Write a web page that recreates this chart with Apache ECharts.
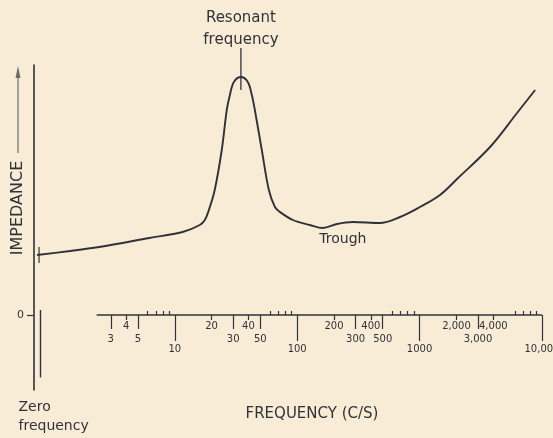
<!DOCTYPE html>
<html>
<head>
<meta charset="utf-8">
<script src="https://cdn.jsdelivr.net/npm/echarts@6/dist/echarts.min.js"></script>
<style>
  html, body { margin: 0; padding: 0; background: #f8ecd7; }
  #chart { width: 553px; height: 438px; }
</style>
</head>
<body>
<div id="chart"></div>
<script>
// Impedance against frequency (c/s); the first sample sits at the zero-frequency end
const frequency = [0.75, 1.4, 2.4, 6.2, 11.6, 16, 17.6, 19, 21.2, 24.2, 26.6, 28.2, 30.4, 34.7,
  39.5, 42.6, 45.1, 51.4, 58.7, 65.8, 72.3, 92.3, 127, 162, 211, 285, 474, 691, 1007, 1468,
  2061, 3764, 6252, 8790];
const impedance = [24, 25.6, 27.2, 30.8, 33.2, 36, 38, 42, 50, 66, 82, 88, 93.2, 95.2,
  93.2, 88, 82, 66, 50, 43.2, 41.2, 38, 36, 34.8, 36.4, 37.2, 36.8, 39.2, 43.2, 48,
  54.8, 67.2, 80.8, 90];

// Frequency scale (log) and its graduations
const scaleStart = 2.3;
const scaleEnd = 10000;
const decadeTicks = [10, 100, 1000, 10000];
const decadeLabels = ['10', '100', '1000', '10,000'];
const midTicks = [3, 5, 30, 50, 300, 500, 3000, 5000];
const midLabels = ['3', '5', '30', '50', '300', '500', '3,000', '5,000'];
const shortTicks = [4, 20, 40, 200, 400, 2000, 4000];
const shortLabels = ['4', '20', '40', '200', '400', '2,000', '4,000'];
const minorTicks = [6, 7, 8, 9, 60, 70, 80, 90, 600, 700, 800, 900, 6000, 7000, 8000, 9000];

// Impedance axis
const impedanceMin = -30;
const impedanceMax = 100;
const impedanceTicks = [0];
const impedanceLabels = ['0'];
const zeroFrequencyMark = 0.8;

const ink = '#313239';
const font = 'DejaVu Sans';
const lx = f => Math.log10(f);
const curve = frequency.map((f, i) => [lx(f), impedance[i]]);

const peakIndex = impedance.indexOf(Math.max(...impedance));
let troughIndex = -1;
frequency.forEach((f, i) => {
  if (f > 80 && (troughIndex < 0 || impedance[i] < impedance[troughIndex])) troughIndex = i;
});

// plot box
const gridTop = 65, gridBottom = 48, chartH = 438;
const plotH = chartH - gridTop - gridBottom;
// lift the frequency scale from the bottom edge up to the impedance zero line
const zeroLift = -plotH * (0 - impedanceMin) / (impedanceMax - impedanceMin);

function freqAxis(ticks, labels, tickLen, labelGap, inside, extra) {
  const vals = ticks.map(lx);
  return Object.assign({
    type: 'value', min: -0.15, max: 4, gridIndex: 0, position: 'bottom', offset: zeroLift,
    axisLine: { show: false, onZero: false },
    splitLine: { show: false },
    axisTick: { show: true, inside: inside, customValues: vals, length: tickLen,
      lineStyle: { color: ink, width: 1.2 } },
    axisLabel: {
      show: !!labels, customValues: vals, margin: labelGap, color: ink,
      fontSize: 10, fontFamily: font, hideOverlap: false,
      formatter: v => {
        const k = vals.findIndex(t => Math.abs(t - v) < 1e-6);
        return k >= 0 && labels ? labels[k] : '';
      }
    }
  }, extra || {});
}

const chart = echarts.init(document.getElementById('chart'), null, { renderer: 'canvas' });
chart.setOption({
  backgroundColor: '#f8ecd7',
  animation: false,
  grid: { left: 34, right: 11, top: gridTop, bottom: gridBottom, containLabel: false, outerBoundsMode: 'none' },
  xAxis: [
    freqAxis(decadeTicks, decadeLabels, 26, 29, false, {
      name: 'FREQUENCY (C/S)', nameLocation: 'middle', nameGap: 92, nameMoveOverlap: false,
      nameTextStyle: { color: ink, fontSize: 15, fontFamily: font, padding: [0, 0, 0, 48] }
    }),
    freqAxis(midTicks, midLabels, 14, 19, false),
    freqAxis(shortTicks, shortLabels, 5, 6, false),
    freqAxis(minorTicks, null, 4, 0, true)
  ],
  yAxis: {
    type: 'value', min: impedanceMin, max: impedanceMax, position: 'left',
    axisLine: { show: true, onZero: false, lineStyle: { color: ink, width: 1.6 } },
    splitLine: { show: false },
    axisTick: { show: true, customValues: impedanceTicks, length: 7, lineStyle: { color: ink, width: 1.2 } },
    axisLabel: {
      customValues: impedanceTicks, margin: 10, color: ink, fontSize: 11, fontFamily: font,
      formatter: v => impedanceLabels[impedanceTicks.indexOf(v)] ?? ''
    },
    name: 'IMPEDANCE', nameLocation: 'middle', nameGap: 8, nameRotate: 90, nameMoveOverlap: false,
    nameTextStyle: { color: ink, fontSize: 16, fontFamily: font, padding: [0, 0, 0, 39] }
  },
  graphic: [
    { type: 'line', silent: true, shape: { x1: 18, y1: 153, x2: 18, y2: 74 },
      style: { stroke: '#6d6d6d', lineWidth: 1.2 } },
    { type: 'polygon', silent: true, shape: { points: [[18, 66], [15.5, 78], [20.5, 78]] },
      style: { fill: '#6d6d6d' } }
  ],
  series: [
    {
      type: 'line', xAxisIndex: 0, yAxisIndex: 0, silent: true, symbol: 'none', z: 3,
      data: [[lx(scaleStart), 0], [lx(scaleEnd), 0]],
      lineStyle: { color: ink, width: 1.6 }
    },
    {
      type: 'line', xAxisIndex: 0, yAxisIndex: 0, silent: true, symbol: 'none', smooth: 0.35, z: 4,
      data: curve,
      lineStyle: { color: ink, width: 1.9 },
      markPoint: {
        silent: true,
        data: [
          {
            coord: curve[peakIndex], symbol: 'rect', symbolSize: [1.3, 42], symbolOffset: [0, -8],
            itemStyle: { color: ink },
            label: { show: true, position: 'top', distance: -3, formatter: 'Resonant\nfrequency',
              color: ink, fontSize: 15, lineHeight: 22, fontFamily: font }
          },
          {
            coord: curve[troughIndex], symbol: 'rect', symbolSize: 0,
            label: { show: true, position: 'bottom', distance: 4, offset: [20, 0], formatter: 'Trough',
              color: ink, fontSize: 14, fontFamily: font }
          },
          {
            coord: curve[0], symbol: 'rect', symbolSize: [1.2, 16], symbolOffset: [2, 0],
            itemStyle: { color: ink }, label: { show: false }
          }
        ]
      },
      markLine: {
        silent: true, symbol: ['none', 'none'],
        lineStyle: { color: ink, width: 1.4, type: 'solid' },
        label: { show: true, position: 'end', distance: 20, formatter: 'Zero\nfrequency',
          align: 'left', offset: [-22, 0], color: ink, fontSize: 14, lineHeight: 19, fontFamily: font },
        data: [[{ xAxis: lx(zeroFrequencyMark), yAxis: 2 }, { xAxis: lx(zeroFrequencyMark), yAxis: -25 }]]
      }
    }
  ]
});
</script>
</body>
</html>
